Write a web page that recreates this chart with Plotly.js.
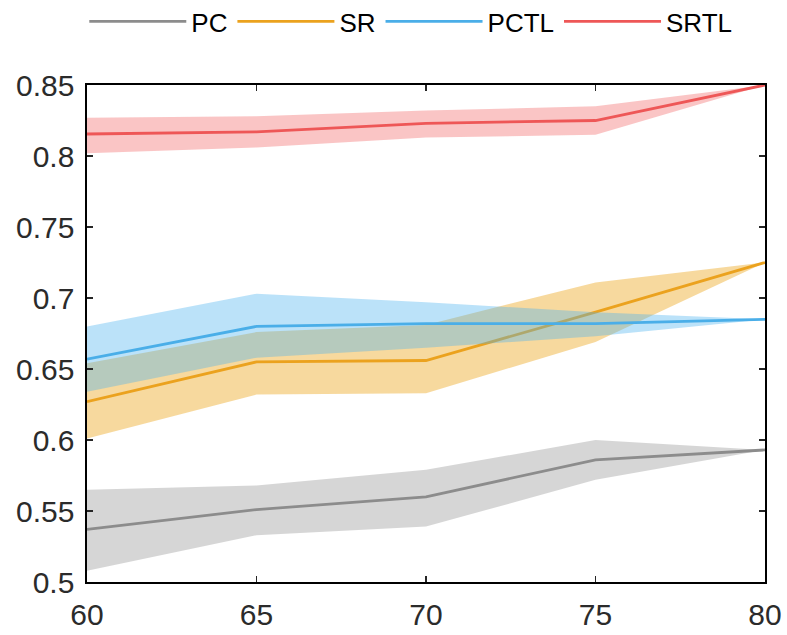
<!DOCTYPE html>
<html>
<head>
<meta charset="utf-8">
<script src="https://cdn.plot.ly/plotly-3.0.1.min.js"></script>
<style>html,body{margin:0;padding:0;background:#fff;}#chart{width:787px;height:635px;}</style>
</head>
<body>
<div id="chart"></div>
<script>
var xs = [60, 65, 70, 75, 80];

var pcMean  = [0.537, 0.551, 0.560, 0.586, 0.593];
var pcUpper = [0.565, 0.568, 0.579, 0.600, 0.593];
var pcLower = [0.508, 0.533, 0.539, 0.572, 0.593];

var srMean  = [0.627, 0.655, 0.656, 0.690, 0.725];
var srUpper = [0.654, 0.676, 0.681, 0.711, 0.725];
var srLower = [0.601, 0.632, 0.633, 0.669, 0.725];

var pctlMean  = [0.657, 0.680, 0.682, 0.682, 0.685];
var pctlUpper = [0.680, 0.703, 0.697, 0.690, 0.685];
var pctlLower = [0.634, 0.658, 0.665, 0.673, 0.685];

var srtlMean  = [0.8155, 0.817, 0.823, 0.825, 0.850];
var srtlUpper = [0.827, 0.828, 0.832, 0.835, 0.850];
var srtlLower = [0.802, 0.806, 0.813, 0.815, 0.850];

var names = ['PC', 'SR', 'PCTL', 'SRTL'];
var lineColors = ['#8c8c8c', '#eba21e', '#4aaee8', '#ee5757'];
var bandColors = ['rgba(128,128,128,0.32)', 'rgba(237,170,40,0.45)', 'rgba(77,180,238,0.38)', 'rgba(240,90,90,0.35)'];

var series = [
  [pcMean, pcUpper, pcLower],
  [srMean, srUpper, srLower],
  [pctlMean, pctlUpper, pctlLower],
  [srtlMean, srtlUpper, srtlLower]
];

var traces = [];
series.forEach(function (s, i) {
  var xr = xs.slice().reverse();
  traces.push({
    x: xs.concat(xr),
    y: s[1].concat(s[2].slice().reverse()),
    type: 'scatter', mode: 'lines', fill: 'toself',
    fillcolor: bandColors[i], line: {width: 0, color: 'rgba(0,0,0,0)'},
    showlegend: false, hoverinfo: 'skip'
  });
  traces.push({
    x: xs, y: s[0], type: 'scatter', mode: 'lines', name: names[i],
    line: {color: lineColors[i], width: 2.8}
  });
});

var layout = {
  width: 787, height: 635,
  margin: {l: 87, r: 22, t: 85, b: 53, autoexpand: false},
  paper_bgcolor: '#fff', plot_bgcolor: '#fff',
  font: {family: 'Liberation Sans, Arial, sans-serif', size: 30, color: '#2b2b2b'},
  showlegend: true,
  legend: {
    orientation: 'h', x: -0.004, y: 1.175, xanchor: 'left', yanchor: 'top',
    itemwidth: 97, font: {size: 26, color: '#000'}, traceorder: 'normal',
    bgcolor: 'rgba(0,0,0,0)'
  },
  xaxis: {
    range: [60, 80], tickvals: [60, 65, 70, 75, 80], ticktext: ['60', '65', '70', '75', '80'],
    ticks: 'inside', ticklen: 6, tickwidth: 1.2, tickcolor: '#262626', ticklabelstandoff: 5,
    showline: true, linecolor: '#000', linewidth: 1.6, mirror: 'ticks',
    showgrid: false, zeroline: false, fixedrange: true
  },
  yaxis: {
    range: [0.5, 0.85], tickvals: [0.5, 0.55, 0.6, 0.65, 0.7, 0.75, 0.8, 0.85],
    ticktext: ['0.5', '0.55', '0.6', '0.65', '0.7', '0.75', '0.8', '0.85'],
    ticks: 'inside', ticklen: 6, tickwidth: 1.2, tickcolor: '#262626', ticklabelstandoff: 5,
    showline: true, linecolor: '#000', linewidth: 1.6, mirror: 'ticks',
    showgrid: false, zeroline: false, fixedrange: true
  }
};

Plotly.newPlot('chart', traces, layout, {staticPlot: true});
</script>
</body>
</html>
